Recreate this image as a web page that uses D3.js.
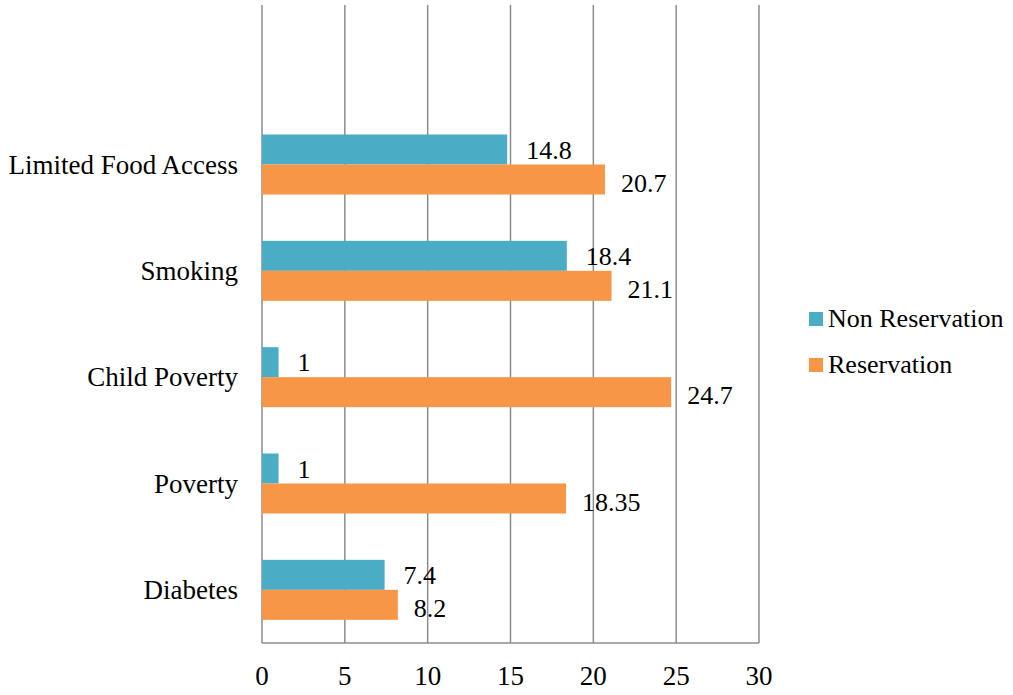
<!DOCTYPE html>
<html>
<head>
<meta charset="utf-8">
<script src="https://cdn.jsdelivr.net/npm/d3@7"></script>
<style>
  body { margin: 0; background: #fff; }
  text { font-family: "Liberation Serif", "Times New Roman", serif; fill: #000; }
</style>
</head>
<body>
<div id="chart"></div>
<script>
// categories bottom-up; the last one is the empty slot at the top of the plot
const categories = ["Diabetes", "Poverty", "Child Poverty", "Smoking", "Limited Food Access", ""];
const seriesNames = ["Non Reservation", "Reservation"];
const nonReservation = [7.4, 1, 1, 18.4, 14.8];
const reservation = [8.2, 18.35, 24.7, 21.1, 20.7];
const xTicks = [0, 5, 10, 15, 20, 25, 30];

const colors = ["#4BACC6", "#F79646"];
const width = 1013, height = 695;
const plotLeft = 262, plotRight = 759, plotTop = 5, plotBottom = 643;

const svg = d3.select("#chart").append("svg")
  .attr("width", width)
  .attr("height", height);

const x = d3.scaleLinear().domain([0, 30]).range([plotLeft, plotRight]);
const y = d3.scaleBand().domain(categories).range([plotBottom, plotTop]);
const inner = d3.scaleBand().domain(seriesNames).range([0, 60]);
const off = (y.bandwidth() - 60) / 2;

// gridlines
svg.append("g").selectAll("line")
  .data(xTicks)
  .join("line")
  .attr("x1", d => x(d)).attr("x2", d => x(d))
  .attr("y1", plotTop).attr("y2", plotBottom)
  .attr("stroke", "#8c8c8c")
  .attr("stroke-width", 1.5);

// bottom axis line
svg.append("line")
  .attr("x1", plotLeft).attr("x2", plotRight)
  .attr("y1", plotBottom).attr("y2", plotBottom)
  .attr("stroke", "#8c8c8c")
  .attr("stroke-width", 1.5);

// x tick labels
svg.append("g").selectAll("text")
  .data(xTicks)
  .join("text")
  .attr("x", d => x(d))
  .attr("y", 685)
  .attr("text-anchor", "middle")
  .style("font-size", "27px")
  .text(d => d);

// category labels
svg.append("g").selectAll("text")
  .data(categories.filter(c => c))
  .join("text")
  .attr("x", 238)
  .attr("y", d => y(d) + y.bandwidth() / 2 + 9)
  .attr("text-anchor", "end")
  .style("font-size", "27px")
  .text(d => d);

const rows = [];
categories.forEach((c, i) => {
  if (!c) return;
  rows.push({ cat: c, s: seriesNames[0], v: nonReservation[i], k: 0 });
  rows.push({ cat: c, s: seriesNames[1], v: reservation[i], k: 1 });
});

// bars
svg.append("g").selectAll("rect")
  .data(rows)
  .join("rect")
  .attr("x", x(0))
  .attr("y", d => y(d.cat) + off + inner(d.s))
  .attr("width", d => x(d.v) - x(0))
  .attr("height", inner.bandwidth())
  .attr("fill", d => colors[d.k]);

// value labels
svg.append("g").selectAll("text")
  .data(rows)
  .join("text")
  .attr("x", d => x(d.v) + (d.k ? 16 : 19))
  .attr("y", d => y(d.cat) + off + inner(d.s) + inner.bandwidth() / 2 + (d.k ? 12 : 9))
  .style("font-size", "26px")
  .text(d => d.v);

// legend
const legend = svg.append("g").selectAll("g")
  .data(seriesNames)
  .join("g")
  .attr("transform", (d, i) => "translate(809," + (312 + i * 46) + ")");
legend.append("rect")
  .attr("width", 14).attr("height", 14)
  .attr("fill", (d, i) => colors[i]);
legend.append("text")
  .attr("x", 19)
  .attr("y", 15)
  .style("font-size", "26px")
  .text(d => d);
</script>
</body>
</html>
